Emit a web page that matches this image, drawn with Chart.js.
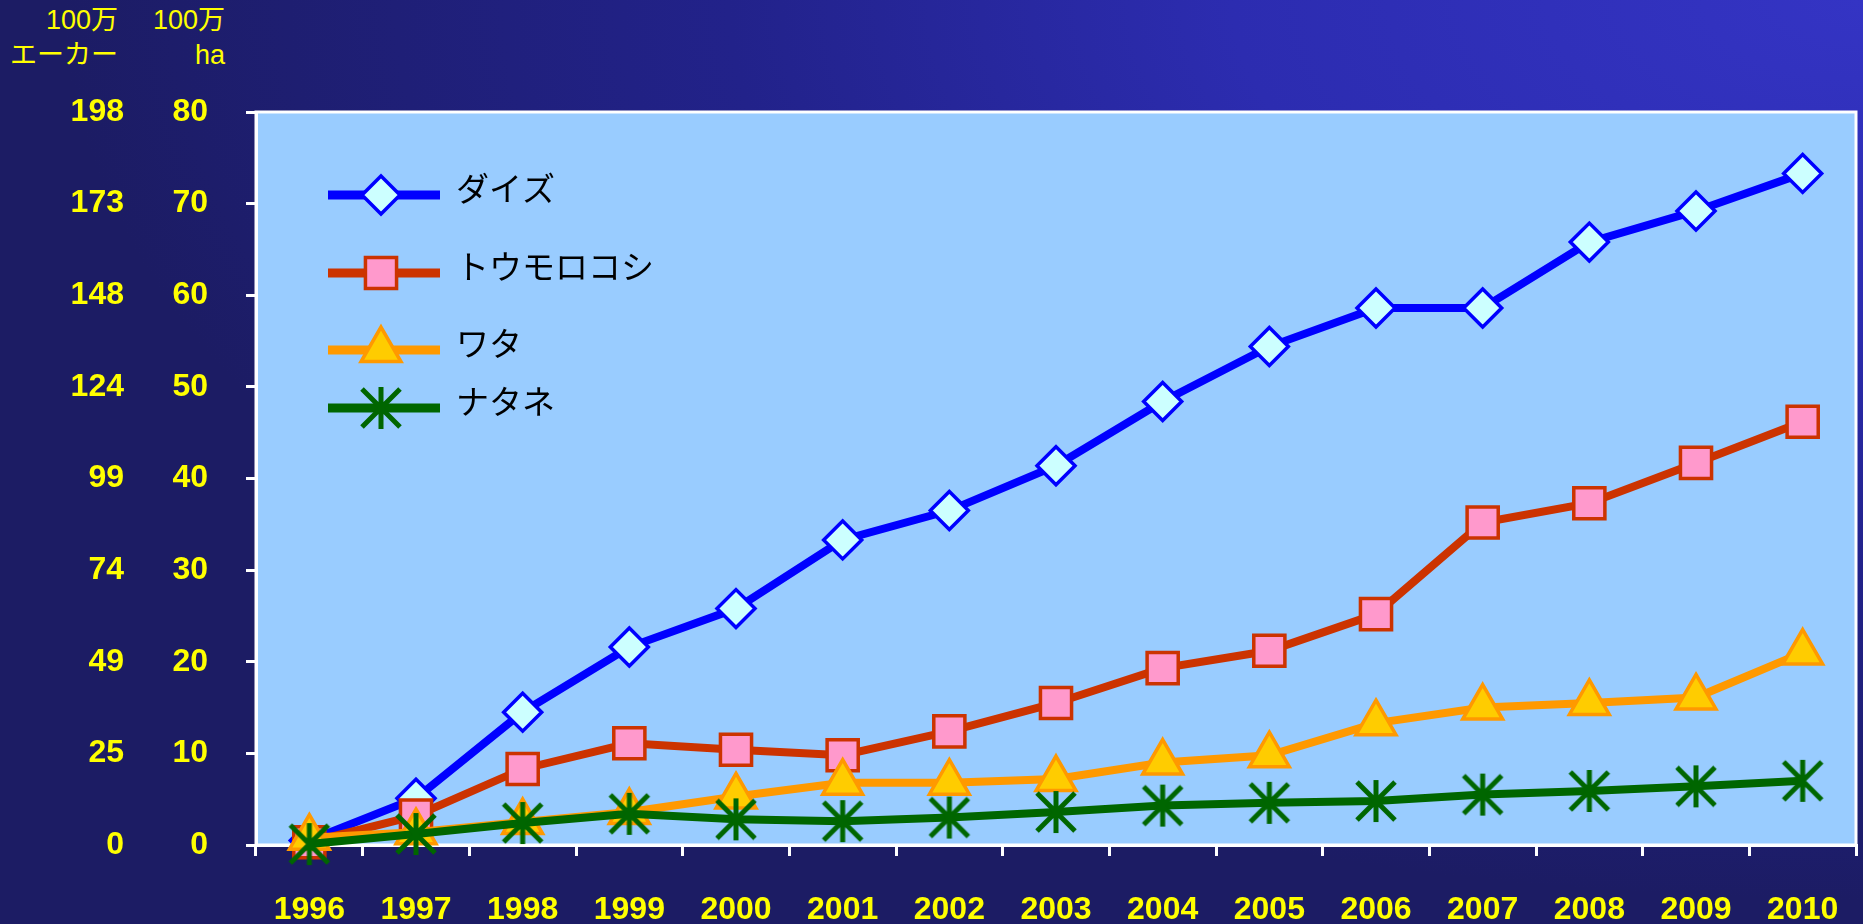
<!DOCTYPE html>
<html lang="ja">
<head>
<meta charset="utf-8">
<script src="https://cdn.jsdelivr.net/npm/chart.js@4.4.1/dist/chart.umd.min.js"></script>
<style>
    html, body { margin: 0; padding: 0; }
    body {
        width: 1863px; height: 924px; overflow: hidden; position: relative;
        background: radial-gradient(1800px 900px at 100% 0%, #3434c4 0%, #2c2cb0 35%, #22228a 63%, #1c1c64 100%);
        font-family: "Liberation Sans", "Noto Sans CJK JP", sans-serif;
    }
    #wrap { position: absolute; left: 0; top: 0; width: 1863px; height: 924px; }
    .unidad { position: absolute; top: 3px; color: #ffff00; font-size: 27px; line-height: 35px; text-align: right; }
</style>
</head>
<body>
<div class="unidad" style="left:0; width:118px;">100万<br>エーカー</div>
<div class="unidad" style="left:130px; width:95px;">100万<br>ha</div>
<div id="wrap"><canvas id="grafico"></canvas></div>
<script>
// Datos (100万 ha)
const anios = ['1996', '1997', '1998', '1999', '2000', '2001', '2002', '2003', '2004', '2005', '2006', '2007', '2008', '2009', '2010'];
const daizu = [0.5, 5.1, 14.5, 21.6, 25.8, 33.3, 36.5, 41.4, 48.4, 54.4, 58.6, 58.6, 65.8, 69.2, 73.3];
const tomorokoshi = [0.3, 3.2, 8.3, 11.1, 10.4, 9.8, 12.4, 15.5, 19.3, 21.2, 25.2, 35.2, 37.3, 41.7, 46.2];
const wata = [0.8, 1.4, 2.5, 3.6, 5.3, 6.8, 6.8, 7.2, 9.0, 9.8, 13.3, 15.0, 15.5, 16.1, 21.0];
const natane = [0.1, 1.2, 2.4, 3.4, 2.8, 2.6, 3.0, 3.6, 4.3, 4.6, 4.8, 5.5, 5.9, 6.4, 7.0];
const nombresSeries = ['ダイズ', 'トウモロコシ', 'ワタ', 'ナタネ'];
// Etiquetas del eje exterior (100万 エーカー)
const etiquetasAcres = ['0', '25', '49', '74', '99', '124', '148', '173', '198'];

const fuenteEje = { family: 'Liberation Sans', size: 32, weight: 'bold' };

// Marcador asterisco para la serie ナタネ
const asterisco = document.createElement('canvas');
asterisco.width = 46;
asterisco.height = 46;
(function() {
    const c = asterisco.getContext('2d');
    c.strokeStyle = '#006600';
    c.lineWidth = 5;
    c.beginPath();
    c.moveTo(4, 4); c.lineTo(42, 42);
    c.moveTo(42, 4); c.lineTo(4, 42);
    c.moveTo(23, 2); c.lineTo(23, 44);
    c.stroke();
})();

// Fondo y marco del área de trazado
const fondoPlugin = {
    id: 'fondo',
    beforeDraw(chart) {
        const { ctx, chartArea: a } = chart;
        ctx.save();
        ctx.fillStyle = '#99ccff';
        ctx.fillRect(a.left, a.top, a.right - a.left, a.bottom - a.top);
        ctx.strokeStyle = '#ffffff';
        ctx.lineWidth = 3;
        ctx.strokeRect(a.left, a.top, a.right - a.left, a.bottom - a.top);
        ctx.restore();
    }
};

// Leyenda dibujada dentro del área de trazado
const leyendaPlugin = {
    id: 'leyendaInterna',
    afterDatasetsDraw(chart) {
        const { ctx, chartArea: a } = chart;
        const filas = [83, 161, 238, 296];
        ctx.save();
        chart.data.datasets.forEach((ds, i) => {
            const y = a.top + filas[i];
            ctx.strokeStyle = ds.borderColor;
            ctx.lineWidth = 9;
            ctx.beginPath();
            ctx.moveTo(a.left + 72, y);
            ctx.lineTo(a.left + 184, y);
            ctx.stroke();
            ctx.fillStyle = ds.pointBackgroundColor;
            ctx.strokeStyle = ds.pointBorderColor;
            ctx.lineWidth = ds.pointBorderWidth;
            Chart.helpers.drawPoint(ctx, {
                pointStyle: ds.pointStyle,
                radius: ds.pointRadius,
                borderWidth: ds.pointBorderWidth,
                rotation: 0
            }, a.left + 125, y);
            ctx.fillStyle = '#000000';
            ctx.font = '33px "Noto Sans CJK JP"';
            ctx.textAlign = 'left';
            ctx.textBaseline = 'middle';
            ctx.fillText(ds.label, a.left + 200, y - 7);
        });
        ctx.restore();
    }
};

const sinRelleno = s => { s.paddingLeft = 0; s.paddingRight = 0; s.paddingTop = 0; s.paddingBottom = 0; };

const ctx = document.getElementById('grafico').getContext('2d');

new Chart(ctx, {
    type: 'line',
    data: {
        labels: anios,
        datasets: [
            {
                label: nombresSeries[0], data: daizu, order: 3,
                borderColor: '#0000ff', borderWidth: 8,
                pointStyle: 'rectRot', pointRadius: 19,
                pointBackgroundColor: '#ccffff', pointBorderColor: '#0000ff', pointBorderWidth: 3.5
            },
            {
                label: nombresSeries[1], data: tomorokoshi, order: 2,
                borderColor: '#cc3300', borderWidth: 8,
                pointStyle: 'rect', pointRadius: 22,
                pointBackgroundColor: '#ff99cc', pointBorderColor: '#cc3300', pointBorderWidth: 3.5
            },
            {
                label: nombresSeries[2], data: wata, order: 1,
                borderColor: '#ff9900', borderWidth: 8,
                pointStyle: 'triangle', pointRadius: 23,
                pointBackgroundColor: '#ffcc00', pointBorderColor: '#ff9900', pointBorderWidth: 3.5
            },
            {
                label: nombresSeries[3], data: natane, order: 0,
                borderColor: '#006600', borderWidth: 8,
                pointStyle: asterisco, pointRadius: 20,
                pointBackgroundColor: '#006600', pointBorderColor: '#006600', pointBorderWidth: 0
            }
        ]
    },
    options: {
        responsive: true,
        maintainAspectRatio: false,
        animation: false,
        clip: false,
        layout: { autoPadding: false, padding: { top: 112, right: 7, left: 0, bottom: 0 } },
        plugins: {
            legend: { display: false },
            tooltip: { enabled: false }
        },
        elements: { line: { tension: 0 } },
        scales: {
            x: {
                offset: true,
                grid: { offset: true, drawOnChartArea: false, drawTicks: true, tickLength: 11, color: '#ffffff', lineWidth: 3 },
                border: { color: '#ffffff', width: 3 },
                ticks: { color: '#ffff00', font: fuenteEje, padding: 35, maxRotation: 0, autoSkip: false },
                afterFit: s => { s.height = 79; sinRelleno(s); }
            },
            y: {
                position: 'left', weight: 0,
                min: 0, max: 80,
                grid: { drawOnChartArea: false, drawTicks: true, tickLength: 10, color: '#ffffff', lineWidth: 3 },
                border: { color: '#ffffff', width: 3 },
                ticks: { stepSize: 10, color: '#ffff00', font: fuenteEje, padding: 38 },
                afterFit: s => { s.width = 106; sinRelleno(s); }
            },
            y2: {
                position: 'left', weight: 1,
                min: 0, max: 80,
                grid: { display: false, drawTicks: false },
                border: { display: false },
                ticks: {
                    stepSize: 10, color: '#ffff00', font: fuenteEje, padding: 26,
                    callback: (v, i) => etiquetasAcres[i]
                },
                afterFit: s => { s.width = 150; sinRelleno(s); }
            }
        }
    },
    plugins: [fondoPlugin, leyendaPlugin]
});
</script>
</body>
</html>
